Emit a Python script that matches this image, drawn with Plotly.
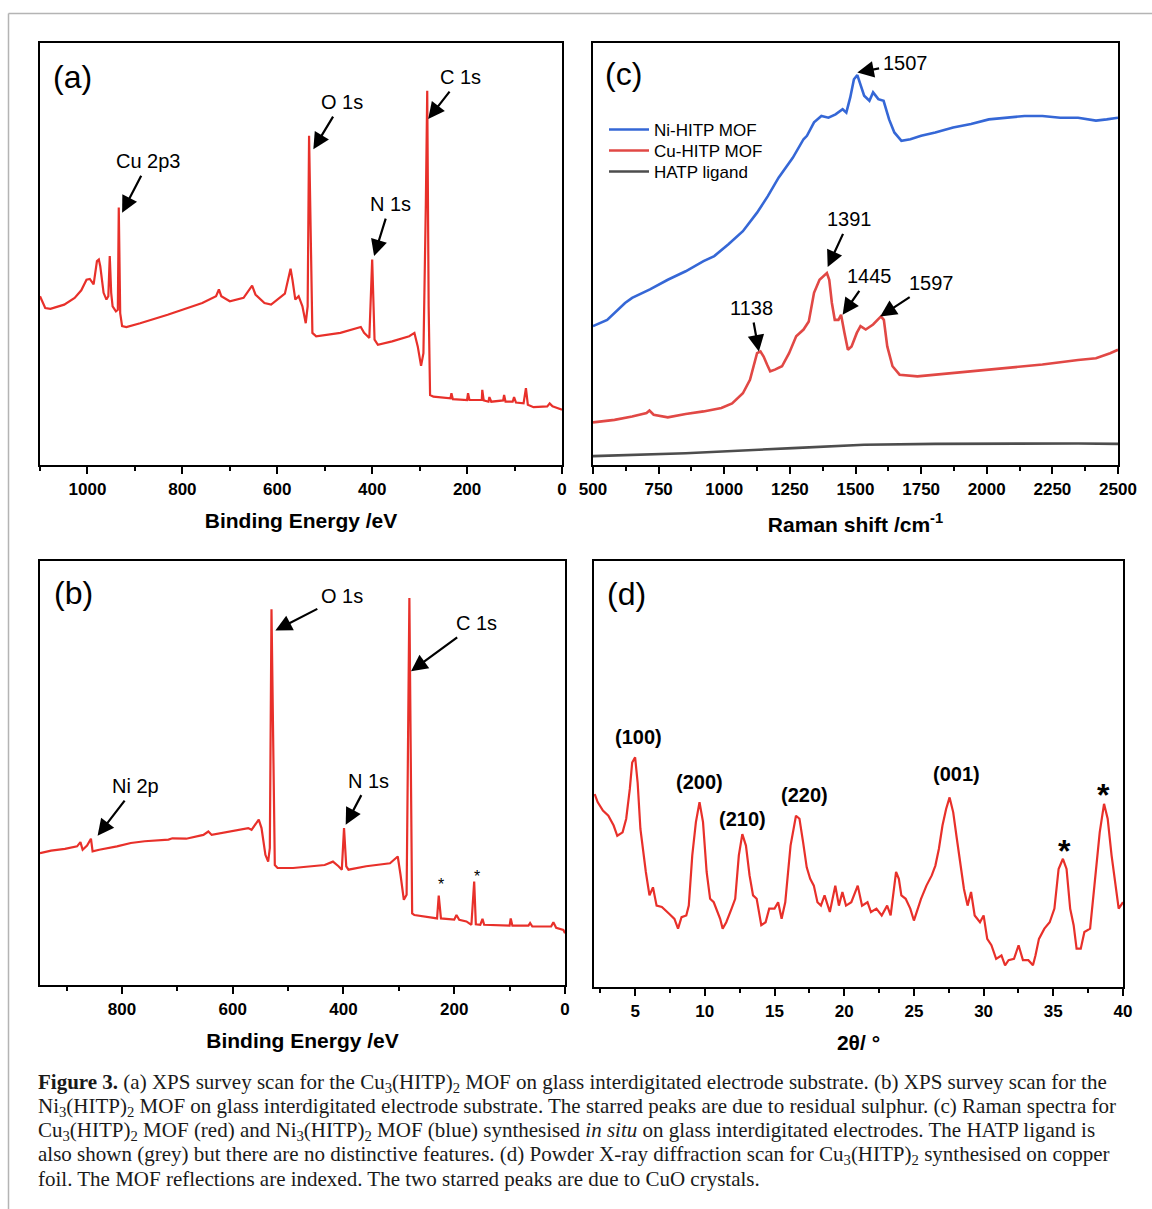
import plotly.graph_objects as go

# ---------------- data ----------------
# (a) XPS survey, Cu3(HITP)2
a_binding_energy = [1100, 1089, 1078, 1049, 1027, 1013, 1002, 995, 987, 980, 976, 973, 966, 960, 956, 953, 950, 947,
                    940, 936, 934, 931, 927, 918, 889, 831, 758, 729, 723, 718, 700, 671, 653, 646, 627, 613, 584,
                    577, 572, 568, 562, 555, 547, 540, 536, 533, 529, 526, 518, 467, 424, 417, 406, 400, 395, 388,
                    358, 322, 311, 304, 297, 292, 287, 284, 281, 278, 271, 235, 233, 230, 200, 198, 195, 169, 168,
                    165, 155, 153, 149, 124, 122, 119, 104, 101, 97, 81, 76, 72, 60, 31, 26, 20, 10, 0]
a_intensity = [40.0, 37.2, 37.0, 38.0, 39.6, 41.4, 43.9, 44.1, 42.8, 48.3, 48.7, 47.1, 40.8, 39.2, 40.0, 49.5, 40.8,
               37.6, 36.4, 36.8, 61.0, 36.0, 32.9, 32.7, 33.6, 35.6, 38.4, 40.0, 41.6, 40.0, 38.8, 39.6, 42.5, 40.4,
               38.4, 38.0, 40.6, 43.9, 46.5, 43.9, 39.2, 40.0, 37.6, 33.6, 37.6, 78.0, 45.5, 31.3, 30.5, 31.3, 32.7,
               31.3, 30.1, 48.7, 29.7, 28.5, 29.3, 30.5, 31.3, 28.1, 23.5, 26.5, 61.4, 88.7, 37.6, 16.6, 16.2, 15.8,
               17.0, 15.6, 15.4, 17.0, 15.4, 15.4, 17.8, 15.3, 15.0, 16.1, 15.0, 15.3, 16.6, 15.0, 15.0, 16.1, 14.8,
               14.6, 18.2, 14.3, 13.7, 13.9, 14.6, 13.9, 13.5, 13.1]
a_peaks = ["C 1s", "O 1s", "Cu 2p3", "N 1s"]

# (b) XPS survey, Ni3(HITP)2
b_binding_energy = [948, 928, 903, 881, 875, 871, 863, 856, 853, 841, 809, 784, 759, 716, 709, 684, 653, 644, 638,
                    603, 572, 566, 553, 548, 541, 536, 533, 530, 527, 524, 519, 491, 434, 419, 409, 403, 399, 395,
                    391, 359, 316, 306, 302, 297, 291, 286, 283, 281, 278, 276, 272, 241, 231, 228, 224, 200, 196,
                    191, 178, 169, 164, 161, 153, 149, 146, 100, 98, 95, 66, 63, 59, 25, 21, 16, 3, 0]
b_intensity = [31.1, 31.7, 32.1, 32.7, 33.7, 31.9, 32.9, 34.5, 31.5, 31.9, 32.7, 33.5, 33.9, 34.3, 34.6, 34.5, 35.4,
               36.2, 35.4, 36.2, 37.0, 36.6, 39.0, 37.0, 30.7, 29.1, 32.3, 88.6, 62.2, 28.3, 27.6, 27.6, 28.3, 29.1,
               28.0, 27.2, 37.0, 28.0, 27.2, 28.0, 28.7, 29.9, 30.3, 26.0, 20.1, 21.3, 70.1, 91.3, 46.5, 16.9, 16.5,
               15.9, 15.7, 21.1, 15.7, 15.4, 16.5, 15.4, 15.0, 14.2, 24.4, 14.3, 14.2, 15.6, 14.2, 14.0, 15.7, 14.0,
               14.0, 14.6, 13.8, 13.8, 14.8, 13.5, 13.0, 12.2]
b_peaks = ["O 1s", "C 1s", "Ni 2p", "N 1s"]

# (c) Raman spectra
c_shift_ni = [500, 554, 622, 649, 717, 785, 853, 921, 962, 1016, 1071, 1125, 1166, 1207, 1261, 1302, 1315, 1342,
              1370, 1397, 1424, 1451, 1465, 1480, 1494, 1507, 1518, 1533, 1553, 1567, 1587, 1607, 1628, 1648, 1675,
              1709, 1750, 1804, 1872, 1940, 2008, 2076, 2144, 2212, 2280, 2348, 2416, 2457, 2500]
c_ni_hitp = [32.9, 34.4, 38.4, 39.6, 41.6, 43.9, 45.9, 48.3, 49.5, 52.3, 55.4, 59.8, 63.7, 68.1, 72.8, 77.2, 78.0,
             81.2, 82.7, 82.3, 83.1, 84.3, 83.5, 87.1, 91.4, 92.4, 90.3, 87.5, 86.3, 88.3, 86.7, 86.3, 81.9, 78.8,
             76.8, 77.2, 78.0, 78.8, 80.0, 80.8, 81.9, 82.3, 82.7, 82.7, 82.3, 82.3, 81.6, 81.9, 82.3]
c_shift_cu = [500, 582, 649, 704, 715, 731, 785, 853, 921, 989, 1030, 1071, 1098, 1111, 1125, 1138, 1150, 1163,
              1175, 1193, 1220, 1247, 1274, 1302, 1322, 1342, 1363, 1391, 1400, 1410, 1421, 1435, 1445, 1458, 1471,
              1485, 1505, 1519, 1539, 1567, 1597, 1608, 1621, 1641, 1668, 1736, 1804, 1940, 2076, 2212, 2348, 2416,
              2470, 2500]
c_cu_hitp = [10.1, 10.7, 11.5, 12.3, 12.9, 11.9, 11.3, 12.1, 12.7, 13.5, 14.6, 17.0, 20.2, 23.4, 26.5, 26.9, 25.7,
             23.8, 22.2, 22.6, 23.4, 26.5, 30.5, 32.1, 34.0, 40.8, 43.9, 45.5, 43.9, 38.4, 34.4, 34.4, 35.6, 31.3,
             27.3, 28.1, 31.3, 32.9, 32.1, 33.3, 35.2, 34.4, 28.1, 23.4, 21.4, 21.0, 21.4, 22.2, 23.0, 23.8, 24.9,
             25.3, 26.5, 27.3]
c_shift_hatp = [500, 853, 1261, 1533, 1804, 2076, 2348, 2500]
c_hatp = [2.1, 2.8, 4.0, 4.8, 5.0, 5.1, 5.1, 5.0]
c_series_names = ["Ni-HITP MOF", "Cu-HITP MOF", "HATP ligand"]
c_peak_labels = ["1507", "1391", "1445", "1597", "1138"]

# (d) PXRD, Cu3(HITP)2 on copper foil
d_two_theta = [2.10, 2.31, 2.69, 3.08, 3.46, 3.72, 4.10, 4.36, 4.62, 4.79, 5.00, 5.18, 5.38, 5.59, 5.77, 6.03, 6.28,
               6.54, 6.92, 7.44, 7.82, 8.08, 8.33, 8.67, 8.85, 9.10, 9.36, 9.62, 9.87, 10.13, 10.38, 10.64, 10.90,
               11.10, 11.28, 11.54, 11.92, 12.18, 12.44, 12.69, 12.95, 13.21, 13.46, 13.72, 14.05, 14.36, 14.62,
               15.00, 15.26, 15.51, 15.77, 16.15, 16.54, 16.79, 17.05, 17.31, 17.56, 17.82, 18.08, 18.33, 18.59,
               18.97, 19.36, 19.62, 19.87, 20.13, 20.51, 20.97, 21.28, 21.67, 21.92, 22.31, 22.69, 23.08, 23.33,
               23.54, 23.72, 23.92, 24.10, 24.41, 24.74, 25.00, 25.26, 25.51, 25.90, 26.28, 26.54, 26.79, 27.05,
               27.31, 27.56, 27.82, 28.08, 28.33, 28.59, 28.85, 29.10, 29.36, 29.74, 30.00, 30.26, 30.56, 30.90,
               31.28, 31.54, 31.79, 32.18, 32.51, 32.82, 33.21, 33.54, 33.72, 33.97, 34.36, 34.74, 35.08, 35.38,
               35.69, 35.95, 36.21, 36.46, 36.67, 36.97, 37.23, 37.64, 37.95, 38.33, 38.64, 38.90, 39.18, 39.44,
               39.69, 40.00]
d_intensity = [45.3, 43.4, 41.4, 40.2, 37.9, 35.5, 36.3, 39.5, 46.5, 52.7, 53.9, 48.0, 37.1, 31.3, 27.0, 21.5, 23.4,
               19.1, 18.8, 17.2, 16.0, 13.7, 16.4, 16.8, 19.1, 30.9, 38.7, 43.4, 38.7, 27.0, 20.7, 19.9, 17.6, 16.0,
               13.7, 15.2, 18.4, 20.7, 30.9, 35.9, 33.2, 26.2, 21.5, 20.7, 14.5, 15.2, 18.4, 18.4, 19.9, 16.0, 19.9,
               33.2, 40.2, 39.5, 34.0, 28.1, 25.4, 23.8, 19.9, 19.1, 21.5, 17.6, 23.8, 19.1, 22.3, 19.1, 19.9, 23.8,
               19.1, 19.9, 17.6, 18.4, 16.8, 19.1, 16.8, 22.3, 27.0, 25.4, 21.5, 20.7, 18.4, 15.6, 18.4, 20.7, 23.8,
               26.2, 28.5, 32.4, 37.9, 41.8, 44.5, 41.0, 34.8, 28.5, 23.0, 19.1, 22.3, 16.8, 15.2, 16.8, 11.3, 9.8,
               6.6, 7.4, 5.1, 6.3, 6.6, 9.8, 6.3, 6.3, 5.1, 7.4, 11.3, 13.7, 15.2, 18.4, 27.7, 30.1, 27.7, 18.4, 14.5,
               9.0, 9.0, 12.9, 13.7, 23.8, 36.3, 43.0, 39.5, 30.9, 23.8, 18.4, 19.9]
d_reflections = ["(100)", "(200)", "(210)", "(220)", "(001)"]

# ---------------- figure ----------------
W, H = 1152, 1209
SANS = "Liberation Sans"
SERIF = "Liberation Serif"
RED = "#e8302a"
RED_C = "#e14845"
BLUE = "#3567d6"
GREY = "#4d4d4d"


def px_x(p):
    return p / W


def px_y(p):
    return 1 - p / H


fig = go.Figure()
fig.add_trace(go.Scatter(x=a_binding_energy, y=a_intensity, mode="lines", line=dict(color=RED, width=2.2),
                         xaxis="x", yaxis="y", showlegend=False, hoverinfo="skip"))
fig.add_trace(go.Scatter(x=b_binding_energy, y=b_intensity, mode="lines", line=dict(color=RED, width=2.2),
                         xaxis="x2", yaxis="y2", showlegend=False, hoverinfo="skip"))
fig.add_trace(go.Scatter(x=c_shift_ni, y=c_ni_hitp, mode="lines", name=c_series_names[0], legend="legend",
                         line=dict(color=BLUE, width=2.6), xaxis="x3", yaxis="y3"))
fig.add_trace(go.Scatter(x=c_shift_cu, y=c_cu_hitp, mode="lines", name=c_series_names[1], legend="legend2",
                         line=dict(color=RED_C, width=2.6), xaxis="x3", yaxis="y3"))
fig.add_trace(go.Scatter(x=c_shift_hatp, y=c_hatp, mode="lines", name=c_series_names[2], legend="legend3",
                         line=dict(color=GREY, width=2.6), xaxis="x3", yaxis="y3"))
fig.add_trace(go.Scatter(x=d_two_theta, y=d_intensity, mode="lines", line=dict(color=RED, width=2.2),
                         xaxis="x4", yaxis="y4", showlegend=False, hoverinfo="skip"))


def xaxis(domain, rng, dtick, minor, title, anchor, standoff=16):
    return dict(domain=domain, range=rng, anchor=anchor, showline=True, linecolor="black", linewidth=2.2,
                mirror=True, ticks="outside", ticklen=7, tickwidth=2, tickcolor="black", dtick=dtick, tick0=0,
                minor=dict(ticks="outside", ticklen=4, tickwidth=2, tickcolor="black", dtick=minor),
                showgrid=False, zeroline=False, automargin=False,
                tickfont=dict(family=SANS, size=17, color="black", weight="bold"),
                title=dict(text=title, standoff=standoff,
                           font=dict(family=SANS, size=21, color="black", weight="bold")))


def yaxis(domain, anchor):
    return dict(domain=domain, range=[0, 100], anchor=anchor, showline=True, linecolor="black", linewidth=2.2,
                mirror=True, ticks="", showticklabels=False, showgrid=False, zeroline=False, automargin=False)


def legend_at(y_px):
    return dict(x=px_x(604), y=px_y(y_px), xanchor="left", yanchor="middle", bgcolor="rgba(0,0,0,0)",
                font=dict(family=SANS, size=17, color="black"), itemwidth=40, borderwidth=0)


fig.update_layout(
    width=W, height=H, margin=dict(l=0, r=0, t=0, b=0, pad=0, autoexpand=False),
    paper_bgcolor="white", plot_bgcolor="white",
    xaxis=xaxis([px_x(40), px_x(562)], [1100, 0], 200, 100, "Binding Energy /eV", "y"),
    yaxis=yaxis([px_y(465), px_y(43)], "x"),
    xaxis2=xaxis([px_x(40), px_x(565)], [948, 0], 200, 100, "Binding Energy /eV", "y2"),
    yaxis2=yaxis([px_y(985), px_y(561)], "x2"),
    xaxis3=xaxis([px_x(593), px_x(1118)], [500, 2500], 250, 125, "Raman shift /cm<sup>-1</sup>", "y3", 20),
    yaxis3=yaxis([px_y(465), px_y(43)], "x3"),
    xaxis4=xaxis([px_x(594), px_x(1123)], [2.05, 40], 5, 2.5, "2θ/ °", "y4"),
    yaxis4=yaxis([px_y(987), px_y(561)], "x4"),
    legend=legend_at(130),
    legend2=legend_at(151),
    legend3=legend_at(172),
    showlegend=True,
)

annotations = []


def refs(ax_id):
    return ("x", "y") if ax_id == 1 else (f"x{ax_id}", f"y{ax_id}")


def text(ax_id, x, y, s, size=20, bold=False):
    xr, yr = refs(ax_id)
    annotations.append(dict(xref=xr, yref=yr, x=x, y=y, text=s, showarrow=False, xanchor="center",
                            yanchor="middle", font=dict(family=SANS, size=size, color="black",
                                                        weight="bold" if bold else "normal")))


def pointer(ax_id, label_xy, head_xy, s, size=20):
    """Label text with a black arrow running from the text to the peak."""
    xr, yr = refs(ax_id)
    annotations.append(dict(xref=xr, yref=yr, x=head_xy[0], y=head_xy[1], ax=label_xy[0], ay=label_xy[1],
                            axref=xr, ayref=yr, text=s, showarrow=True, arrowhead=2, arrowsize=1.5,
                            arrowwidth=2.2, arrowcolor="black", standoff=0, borderpad=3,
                            font=dict(family=SANS, size=size, color="black")))


# panel (a)
text(1, 1031, 92, "(a)", 32)
pointer(1, (213, 91.9), (282, 82), a_peaks[0])
pointer(1, (464, 86), (524, 74.8), a_peaks[1])
pointer(1, (871, 72), (927, 59.8), a_peaks[2])
pointer(1, (362, 61.8), (396, 49.5), a_peaks[3])

# panel (b)
text(2, 888, 92.5, "(b)", 32)
pointer(2, (403, 91.7), (523, 83.6), b_peaks[0])
pointer(2, (159, 85.4), (278, 74), b_peaks[1])
pointer(2, (775, 46.9), (844, 35.2), b_peaks[2])
pointer(2, (354, 48.2), (396, 37.8), b_peaks[3])
text(2, 224, 23.6, "*", 16)
text(2, 159, 25.7, "*", 16)

# panel (c)
text(3, 616, 92.6, "(c)", 32)
pointer(3, (1689, 95.2), (1507, 93), c_peak_labels[0])
pointer(3, (1478, 58.2), (1394, 46.9), c_peak_labels[1])
pointer(3, (1553, 44.7), (1451, 35.6), c_peak_labels[2])
pointer(3, (1791, 43.2), (1594, 35.2), c_peak_labels[3])
pointer(3, (1102, 37.2), (1132, 26.9), c_peak_labels[4])

# panel (d)
text(4, 4.36, 92.2, "(d)", 32)
text(4, 5.26, 58.6, d_reflections[0], 20, True)
text(4, 9.62, 48.2, d_reflections[1], 20, True)
text(4, 12.69, 39.5, d_reflections[2], 20, True)
text(4, 17.18, 45.1, d_reflections[3], 20, True)
text(4, 28.08, 50.0, d_reflections[4], 20, True)
text(4, 35.77, 32.0, "*", 32, True)
text(4, 38.59, 45.0, "*", 32, True)

# caption
caption_lines = [
    "<b>Figure 3.</b> (a) XPS survey scan for the Cu<sub>3</sub>(HITP)<sub>2</sub> MOF on glass interdigitated "
    "electrode substrate. (b) XPS survey scan for the",
    "Ni<sub>3</sub>(HITP)<sub>2</sub> MOF on glass interdigitated electrode substrate. The starred peaks are due "
    "to residual sulphur. (c) Raman spectra for",
    "Cu<sub>3</sub>(HITP)<sub>2</sub> MOF (red) and Ni<sub>3</sub>(HITP)<sub>2</sub> MOF (blue) synthesised "
    "<i>in situ</i> on glass interdigitated electrodes. The HATP ligand is",
    "also shown (grey) but there are no distinctive features. (d) Powder X-ray diffraction scan for "
    "Cu<sub>3</sub>(HITP)<sub>2</sub> synthesised on copper",
    "foil. The MOF reflections are indexed. The two starred peaks are due to CuO crystals.",
]
for i, line in enumerate(caption_lines):
    annotations.append(dict(xref="paper", yref="paper", x=px_x(36), y=px_y(1083 + 24 * i), text=line,
                            showarrow=False, xanchor="left", yanchor="middle",
                            font=dict(family=SERIF, size=21, color="#1a1a1a")))

fig.update_layout(annotations=annotations)

# outer frame of the figure (left and top edges only visible)
fig.add_shape(type="line", xref="paper", yref="paper", x0=px_x(8.5), x1=px_x(8.5), y0=0, y1=px_y(13.5),
              line=dict(color="#b4b4b4", width=1.5))
fig.add_shape(type="line", xref="paper", yref="paper", x0=px_x(8.5), x1=1, y0=px_y(13.5), y1=px_y(13.5),
              line=dict(color="#b4b4b4", width=1.5))

fig.write_html("out.html", config={"displayModeBar": False, "responsive": False},
               post_script="document.body.style.margin='0px';document.body.style.overflow='hidden';")
